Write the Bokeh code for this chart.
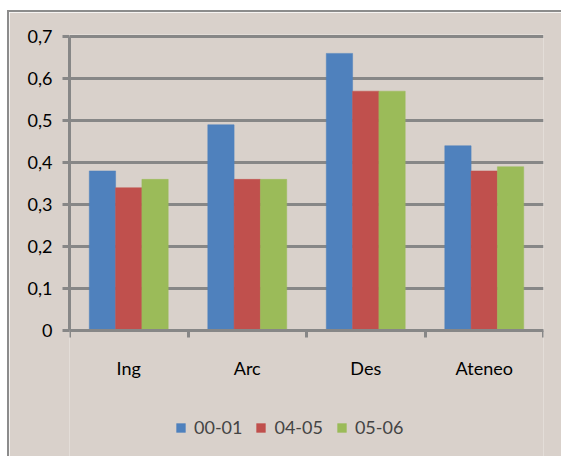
from bokeh.plotting import figure
from bokeh.models import (ColumnDataSource, Range1d, FixedTicker, CustomJSTickFormatter,
                          Legend, LegendItem)
from bokeh.transform import dodge
from bokeh.embed import file_html
from bokeh.resources import INLINE

categories = ["Ing", "Arc", "Des", "Ateneo"]
series_names = ["00-01", "04-05", "05-06"]
s_00_01 = [0.38, 0.49, 0.66, 0.44]
s_04_05 = [0.34, 0.36, 0.57, 0.38]
s_05_06 = [0.36, 0.36, 0.57, 0.39]
y_ticks = [0, 0.1, 0.2, 0.3, 0.4, 0.5, 0.6, 0.7]

colors = ["#4F81BD", "#C0504D", "#9BBB59"]
bg = "#D9D1CB"
grid = "#878787"
font = "Lato"

centers = [i + 0.5 for i in range(len(categories))]
src = ColumnDataSource(dict(x=centers, a=s_00_01, b=s_04_05, c=s_05_06))

p = figure(output_backend="svg", toolbar_location=None,
           x_range=Range1d(0, len(categories)), y_range=Range1d(-0.3, 0.705),
           frame_width=474, frame_height=422,
           min_border_left=60, min_border_right=18, min_border_top=22, min_border_bottom=0)
p.styles = {"margin-left": "7px", "margin-top": "10px",
            "border-left": "2px solid #8c8c8c", "border-top": "2px solid #8c8c8c"}
p.background_fill_color = bg
p.border_fill_color = bg
p.outline_line_color = None

bw = 0.222
r = []
for key, off, col in zip(["a", "b", "c"], [-bw, 0, bw], colors):
    r.append(p.vbar(x=dodge("x", off, range=p.x_range), top=key, width=bw, bottom=0,
                    source=src, fill_color=col, line_color=col, line_width=0.5))

# y axis
p.yaxis.ticker = FixedTicker(ticks=y_ticks, minor_ticks=[])
p.yaxis.bounds = (0, 0.7)
p.yaxis.formatter = CustomJSTickFormatter(code='return tick == 0 ? "0" : tick.toFixed(1).replace(".", ",");')
p.yaxis.axis_line_color = grid
p.yaxis.axis_line_width = 3
p.yaxis.major_tick_line_color = grid
p.yaxis.major_tick_line_width = 3
p.yaxis.major_tick_out = 7
p.yaxis.major_tick_in = 0
p.yaxis.major_label_standoff = 10
p.yaxis.major_label_text_font = font
p.yaxis.major_label_text_font_size = "18px"
p.yaxis.major_label_text_color = "#000000"

# x axis at value 0: labels at centers, ticks at boundaries
p.xaxis.fixed_location = 0
p.xaxis.ticker = FixedTicker(ticks=centers, minor_ticks=list(range(len(categories) + 1)))
p.xaxis.major_label_overrides = {c: n for c, n in zip(centers, categories)}
p.xaxis.axis_line_color = grid
p.xaxis.axis_line_width = 3
p.xaxis.major_tick_line_color = None
p.xaxis.major_tick_out = 0
p.xaxis.major_tick_in = 0
p.xaxis.minor_tick_line_color = grid
p.xaxis.minor_tick_line_width = 3
p.xaxis.minor_tick_out = 7
p.xaxis.minor_tick_in = 0
p.xaxis.major_label_standoff = 19
p.xaxis.major_label_text_font = font
p.xaxis.major_label_text_font_size = "18px"
p.xaxis.major_label_text_color = "#000000"

p.xgrid.grid_line_color = None
p.ygrid.ticker = FixedTicker(ticks=y_ticks)
p.ygrid.grid_line_color = grid
p.ygrid.grid_line_width = 3

legend = Legend(items=[LegendItem(label=n, renderers=[rr]) for n, rr in zip(series_names, r)],
                orientation="horizontal", location=(106, 18))
legend.background_fill_alpha = 0
legend.border_line_color = None
legend.label_text_font = font
legend.label_text_font_size = "18px"
legend.glyph_width = 11
legend.glyph_height = 11
legend.label_standoff = 8
legend.spacing = 13
legend.padding = 0
legend.margin = 0
p.add_layout(legend, "center")

open("out.html", "w").write(file_html(p, INLINE))
